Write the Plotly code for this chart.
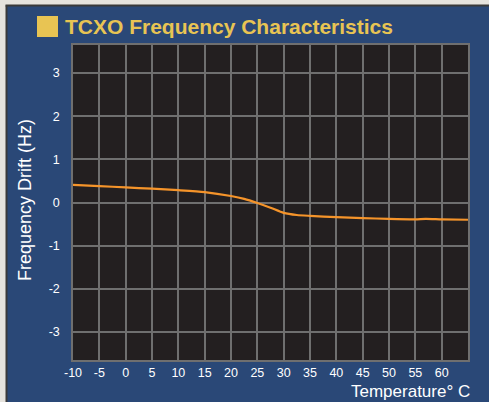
import plotly.graph_objects as go

temperature = [-10, -5, 0, 5, 10, 15, 20, 22.5, 25, 27.5, 30, 32.5, 35, 40, 45, 50, 55, 57, 60, 65]
drift_hz = [0.41, 0.38, 0.35, 0.32, 0.285, 0.24, 0.15, 0.085, -0.01, -0.12, -0.24, -0.29, -0.31,
            -0.34, -0.36, -0.38, -0.39, -0.378, -0.39, -0.40]
x_ticks = list(range(-10, 65, 5))
y_ticks = [-3, -2, -1, 0, 1, 2, 3]

W, H = 489, 402
L, R, T, B = 73, 21, 45, 42
PW, PH = W - L - R, H - T - B


def px(x):
    return (x - L) / PW


def py(y):
    return (H - B - y) / PH


BLUE = "#2a4877"
GRAY = "#e6e3dd"
GRID = "#6f6f6f"
FONT = "Liberation Sans, Arial, Helvetica, sans-serif"

fig = go.Figure()
fig.add_trace(go.Scatter(
    x=temperature, y=drift_hz, mode="lines",
    line=dict(color="#f5942a", width=2.2, shape="spline", smoothing=0.6),
    hoverinfo="skip", showlegend=False,
))

shapes = [
    dict(type="rect", xref="paper", yref="paper", layer="below",
         x0=px(-5), x1=px(6), y0=py(H + 5), y1=py(-5),
         fillcolor=GRAY, line=dict(width=0)),
    dict(type="rect", xref="paper", yref="paper", layer="below",
         x0=px(-5), x1=px(W + 5), y0=py(5), y1=py(-5),
         fillcolor=GRAY, line=dict(width=0)),
    dict(type="line", xref="paper", yref="paper", layer="below",
         x0=px(6.5), x1=px(6.5), y0=py(H + 5), y1=py(5.5),
         line=dict(color="#3a3a3a", width=2)),
    dict(type="line", xref="paper", yref="paper", layer="below",
         x0=px(5.5), x1=px(W + 5), y0=py(5.5), y1=py(5.5),
         line=dict(color="#3a3a3a", width=2)),
    dict(type="rect", xref="paper", yref="paper",
         x0=px(37), x1=px(58), y0=py(37), y1=py(16),
         fillcolor="#e8c453", line=dict(width=0)),
]

annotations = [
    dict(text="<b>TCXO Frequency Characteristics</b>", xref="paper", yref="paper",
         x=px(63), y=py(26.5), xanchor="left", yanchor="middle", showarrow=False,
         font=dict(family=FONT, size=21, color="#e8c453")),
    dict(text="Temperature° C", xref="paper", yref="paper",
         x=px(472), y=py(391), xanchor="right", yanchor="middle", showarrow=False,
         font=dict(family=FONT, size=17, color="white")),
    dict(text="Frequency Drift (Hz)", xref="paper", yref="paper", textangle=-90,
         x=px(25), y=py(200), xanchor="center", yanchor="middle", showarrow=False,
         font=dict(family=FONT, size=18, color="white")),
]

fig.update_layout(
    width=W, height=H,
    margin=dict(l=L, r=R, t=T, b=B),
    paper_bgcolor=BLUE,
    plot_bgcolor="#231f20",
    shapes=shapes,
    annotations=annotations,
    xaxis=dict(range=[-10, 65], tickvals=x_ticks, ticktext=[str(v) for v in x_ticks],
               showgrid=True, gridcolor=GRID, gridwidth=1.5,
               zeroline=False, showline=True, linecolor=GRID, linewidth=1.5, mirror=True,
               ticks="", ticklabelstandoff=0,
               tickfont=dict(family=FONT, size=12.5, color="white"), fixedrange=True),
    yaxis=dict(range=[-3.65, 3.65], tickvals=y_ticks, ticktext=[str(v) for v in y_ticks],
               showgrid=True, gridcolor=GRID, gridwidth=1.5,
               zeroline=False, showline=True, linecolor=GRID, linewidth=1.5, mirror=True,
               ticks="", ticklabelstandoff=9,
               tickfont=dict(family=FONT, size=12.5, color="white"), fixedrange=True),
)

fig.write_html("out.html", config={"displayModeBar": False},
               post_script="document.body.style.margin='0';document.body.style.overflow='hidden';")
